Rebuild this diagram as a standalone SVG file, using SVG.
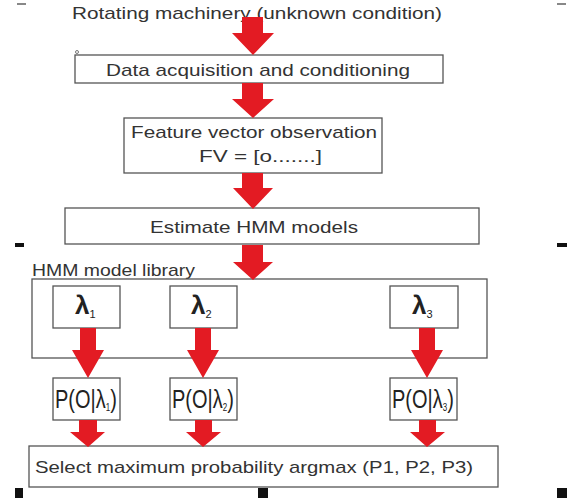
<svg xmlns="http://www.w3.org/2000/svg" width="582" height="498" viewBox="0 0 582 498">
<style>
.box{fill:#fff;stroke:#555;stroke-width:1.3}
.t{font-family:"Liberation Sans",Arial,sans-serif;fill:#333;font-size:17px}
.lam{font-family:"Liberation Sans",Arial,sans-serif;fill:#222;font-size:26px;font-weight:bold}
.sub{font-size:11px;font-weight:normal}
.p{font-family:"Liberation Sans",Arial,sans-serif;fill:#222;font-size:25px}
.ps{font-size:10px}
.arr{fill:#e31b23}
.mk{fill:#111}
.mkg{fill:#888}
</style>
<rect width="582" height="498" fill="#fff"/>
<g id="marks">
<rect class="mkg" x="17" y="3" width="9" height="2"/>
<rect class="mkg" x="557" y="3" width="9" height="2"/>
<rect class="mk" x="15" y="243" width="9" height="4"/>
<rect class="mk" x="557" y="243" width="10" height="4"/>
<rect class="mk" x="15" y="488" width="8" height="10"/>
<rect class="mk" x="258" y="488" width="10" height="10"/>
<rect class="mk" x="557" y="488" width="10" height="10"/>
</g>
<g id="title">
<text class="t" x="72" y="19" textLength="370" lengthAdjust="spacingAndGlyphs">Rotating machinery (unknown condition)</text>
</g>
<g id="data">
<rect class="box" x="75" y="55" width="368" height="28"/>
<circle cx="77" cy="52" r="1.5" fill="none" stroke="#555" stroke-width="0.8"/>
<text class="t" x="106" y="76" textLength="304" lengthAdjust="spacingAndGlyphs">Data acquisition and conditioning</text>
</g>
<g id="feature">
<rect class="box" x="124" y="118" width="258" height="55"/>
<text class="t" x="131" y="138" textLength="246" lengthAdjust="spacingAndGlyphs">Feature vector observation</text>
<text class="t" x="199" y="162" textLength="123" lengthAdjust="spacingAndGlyphs">FV = [o.......]</text>
</g>
<g id="estimate">
<rect class="box" x="65" y="208" width="414" height="36"/>
<text class="t" x="150" y="233" textLength="208" lengthAdjust="spacingAndGlyphs">Estimate HMM models</text>
</g>
<g id="library">
<text class="t" x="32" y="276" textLength="163" lengthAdjust="spacingAndGlyphs">HMM model library</text>
<rect class="box" x="32" y="279" width="455" height="79"/>
</g>
<g id="lambda1">
<rect class="box" x="53" y="286" width="67" height="42"/>
<text class="lam" x="75" y="314">λ<tspan class="sub" dy="4">1</tspan></text>
</g>
<g id="lambda2">
<rect class="box" x="170" y="286" width="67" height="42"/>
<text class="lam" x="191" y="314">λ<tspan class="sub" dy="4">2</tspan></text>
</g>
<g id="lambda3">
<rect class="box" x="390" y="286" width="68" height="42"/>
<text class="lam" x="412" y="314">λ<tspan class="sub" dy="4">3</tspan></text>
</g>
<g id="p1">
<rect class="box" x="53" y="378" width="67" height="42"/>
<text class="p" transform="translate(55,408) scale(0.8,1)">P(O|λ<tspan class="ps" dy="3">1</tspan><tspan dy="-3">)</tspan></text>
</g>
<g id="p2">
<rect class="box" x="170" y="378" width="67" height="42"/>
<text class="p" transform="translate(172,408) scale(0.8,1)">P(O|λ<tspan class="ps" dy="3">2</tspan><tspan dy="-3">)</tspan></text>
</g>
<g id="p3">
<rect class="box" x="390" y="378" width="67" height="42"/>
<text class="p" transform="translate(392,408) scale(0.8,1)">P(O|λ<tspan class="ps" dy="3">3</tspan><tspan dy="-3">)</tspan></text>
</g>
<g id="select">
<rect class="box" x="29" y="446" width="469" height="41"/>
<text class="t" x="35" y="473" textLength="438" lengthAdjust="spacingAndGlyphs">Select maximum probability argmax (P1, P2, P3)</text>
</g>
<g id="connectors">
<polygon class="arr" points="242,17 263,17 263,33 274,33 253,55 232,33 242,33"/>
<polygon class="arr" points="242,83 263,83 263,99 274,99 253,118 232,99 242,99"/>
<polygon class="arr" points="242,173 263,173 263,188 273,188 253,209 233,188 242,188"/>
<polygon class="arr" points="242,245 263,245 263,262 273,262 253,280 233,262 242,262"/>
<polygon class="arr" points="80,328 96,328 96,350 104,350 88,378 72,350 80,350"/>
<polygon class="arr" points="195,328 211,328 211,350 219,350 203,378 187,350 195,350"/>
<polygon class="arr" points="419,328 435,328 435,350 443,350 427,378 411,350 419,350"/>
<polygon class="arr" points="79,420 97,420 97,432 105,432 88,447 70,432 79,432"/>
<polygon class="arr" points="195,420 212,420 212,432 221,432 203,447 186,432 195,432"/>
<polygon class="arr" points="419,420 436,420 436,432 445,432 427,447 410,432 419,432"/>
</g>
</svg>
